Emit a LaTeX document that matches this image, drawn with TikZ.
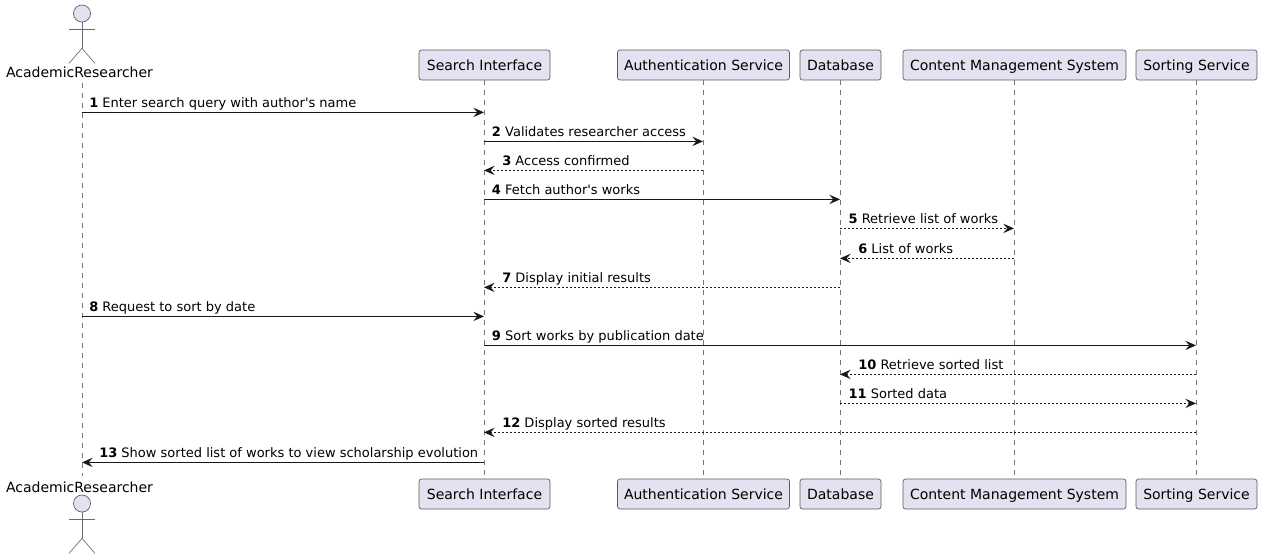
\documentclass[tikz,border=0pt]{standalone}
\usepackage{fontspec}
\setmainfont{DejaVu Sans}
\usetikzlibrary{arrows.meta,calc}
\definecolor{partfill}{HTML}{E2E2F0}
\definecolor{partline}{HTML}{5A5A5A}
\definecolor{limbline}{HTML}{6A6A6A}
\definecolor{thinline}{HTML}{777777}
\definecolor{msgline}{HTML}{181818}
\tikzset{
  x=0.75pt,y=-0.75pt,
  part/.style={draw=partline,line width=0.5pt,fill=partfill,rounded corners=1.9pt,minimum height=22.5pt,inner sep=0pt,font=\fontsize{10.5}{12}\selectfont,text=black,anchor=center,text height=10pt,text depth=2.2pt},
  actorname/.style={font=\fontsize{10.5}{12}\selectfont,inner sep=0pt,anchor=base,text=black},
  head/.style={draw=partline,line width=0.5pt,fill=partfill,circle,minimum size=12.8pt,inner sep=0pt},
  limb/.style={draw=limbline,line width=0.5pt},
  life/.style={draw=thinline,line width=0.45pt,dash pattern=on 3.75pt off 3.75pt},
  sync/.style={draw=msgline,line width=0.75pt,-{Stealth[length=8pt,width=7pt,inset=3pt,color=msgline]}},
  reply/.style={sync,dash pattern=on 1.5pt off 1.5pt},
  msgtext/.style={font=\fontsize{9.75}{12}\selectfont,inner sep=0pt,anchor=base west,text=black},
}
\newcommand{\actorfig}[2]{% name, head centre y
  \node[head] (#1) at (82,#2) {};
  \draw[limb] (#1.south) -- ++(0,26) coordinate (#1hip);
  \draw[limb] ($(#1.south)+(-13,7)$) -- ($(#1.south)+(13,7)$);
  \draw[limb] (#1hip) -- ++(-13,15);
  \draw[limb] (#1hip) -- ++(13,15);
}
\newcommand{\msgline}[7]{% y, from, to, style, label x, num, text
  \draw[#4] (#2 |- 0,#1+0.4) -- (#3 |- 0,#1+0.4);
  \node[msgtext] (lab#6) at (#5,#1-4.5) {\textbf{#6} #7};
}
\begin{document}
\begin{tikzpicture}
\useasboundingbox (0,0) rectangle (1262,559);
% top participants
\actorfig{headT}{13.5}
\node[actorname] (aT) at (79.5,78) {AcademicResearcher};
\node[part,minimum width=98.25pt] (sT) at (484.5,65) {Search Interface};
\node[part,minimum width=129pt] (auT) at (703.5,65) {Authentication Service};
\node[part,minimum width=60.75pt] (dT) at (840.5,65) {Database};
\node[part,minimum width=167.25pt] (cT) at (1014.5,65) {Content Management System};
\node[part,minimum width=90.75pt] (soT) at (1196.5,65) {Sorting Service};
% bottom participants
\actorfig{headB}{503.5}
\node[actorname] (aB) at (79.5,492) {AcademicResearcher};
\node[part,minimum width=98.25pt] (sB) at (484.5,494) {Search Interface};
\node[part,minimum width=129pt] (auB) at (703.5,494) {Authentication Service};
\node[part,minimum width=60.75pt] (dB) at (840.5,494) {Database};
\node[part,minimum width=167.25pt] (cB) at (1014.5,494) {Content Management System};
\node[part,minimum width=90.75pt] (soB) at (1196.5,494) {Sorting Service};
% lifelines
\coordinate (a) at (82,83);
\coordinate (aEnd) at (82,476);
\coordinate (s) at (484,83);
\coordinate (au) at (703,83);
\coordinate (d) at (840,83);
\coordinate (c) at (1014,83);
\coordinate (so) at (1196,83);
\draw[life] (a) -- (aEnd);
\draw[life] (sT.south -| s) -- (sB.north -| s);
\draw[life] (auT.south -| au) -- (auB.north -| au);
\draw[life] (dT.south -| d) -- (dB.north -| d);
\draw[life] (cT.south -| c) -- (cB.north -| c);
\draw[life] (soT.south -| so) -- (soB.north -| so);
% messages
\msgline{112}{a}{s}{sync}{89}{1}{Enter search query with author\textquotesingle s name}
\msgline{141}{s}{au}{sync}{491.7}{2}{Validates researcher access}
\msgline{170}{au}{s}{reply}{502}{3}{Access confirmed}
\msgline{199}{s}{d}{sync}{491.7}{4}{Fetch author\textquotesingle s works}
\msgline{228}{d}{c}{reply}{848.3}{5}{Retrieve list of works}
\msgline{258}{c}{d}{reply}{858}{6}{List of works}
\msgline{287}{d}{s}{reply}{502}{7}{Display initial results}
\msgline{316}{a}{s}{sync}{89}{8}{Request to sort by date}
\msgline{345}{s}{so}{sync}{491.7}{9}{Sort works by publication date}
\msgline{374}{so}{d}{reply}{858}{10}{Retrieve sorted list}
\msgline{403}{d}{so}{reply}{848.3}{11}{Sorted data}
\msgline{432}{so}{s}{reply}{502}{12}{Display sorted results}
\msgline{462}{s}{a}{sync}{99}{13}{Show sorted list of works to view scholarship evolution}
\end{tikzpicture}
\end{document}
